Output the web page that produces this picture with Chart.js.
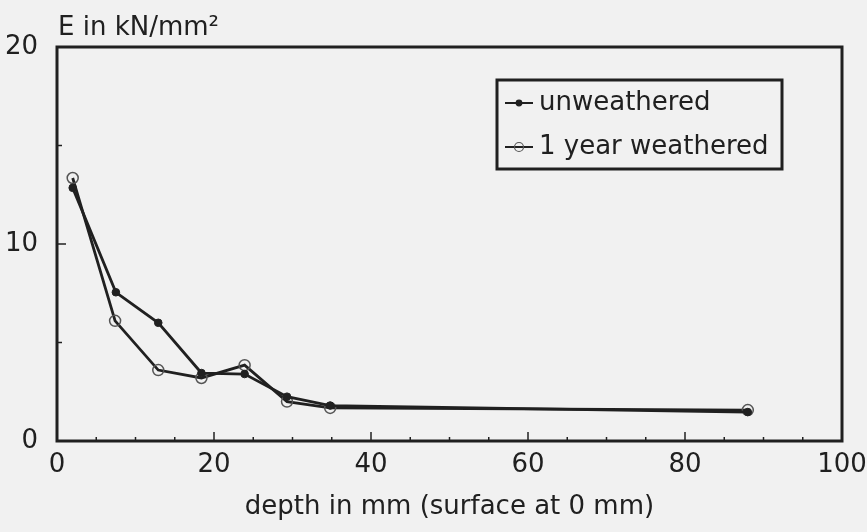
<!DOCTYPE html>
<html>
<head>
<meta charset="utf-8">
<script src="https://cdn.jsdelivr.net/npm/chart.js@4.4.1/dist/chart.umd.min.js"></script>
<style>
  html, body { margin: 0; padding: 0; background: #f1f1f1; }
  #wrap { width: 867px; height: 532px; }
</style>
</head>
<body>
<div id="wrap"><canvas id="myChart" width="867" height="532"></canvas></div>
<script>
// depth values (mm) and E modulus (kN/mm²)
const depthUnweathered = [2.0, 7.5, 12.9, 18.4, 23.9, 29.3, 34.8, 88.0];
const eUnweathered = [12.85, 7.55, 6.0, 3.45, 3.4, 2.25, 1.8, 1.47];

const depthWeathered = [2.0, 7.4, 12.9, 18.4, 23.9, 29.3, 34.8, 88.0];
const eWeathered = [13.35, 6.1, 3.6, 3.2, 3.85, 2.0, 1.68, 1.57];

const seriesNames = ['unweathered', '1 year weathered'];
const xLabelTicks = [0, 20, 40, 60, 80, 100];
const yLabelTicks = [0, 10, 20];

const axisTitleX = 'depth in mm (surface at 0 mm)';
const axisTitleY = 'E in kN/mm²';

const FONT = 'DejaVu Sans';
const INK = '#202020';

function toPoints(xs, ys) {
    return xs.map((x, i) => ({ x: x, y: ys[i] }));
}

// frame around the plot, inner tick marks and the y title
const framePlugin = {
    id: 'frame',
    afterDraw(chart) {
        const ctx = chart.ctx;
        const a = chart.chartArea;
        const xs = chart.scales.x;
        const ys = chart.scales.y;
        ctx.save();
        ctx.strokeStyle = INK;

        // small tick marks pointing into the plot
        ctx.lineWidth = 1.5;
        xs.ticks.forEach(t => {
            if (t.value <= 0 || t.value >= 100) return;
            const px = xs.getPixelForValue(t.value);
            const len = t.value % 20 === 0 ? 9 : 4;
            ctx.beginPath();
            ctx.moveTo(px, a.bottom);
            ctx.lineTo(px, a.bottom - len);
            ctx.stroke();
        });
        ys.ticks.forEach(t => {
            if (t.value <= 0 || t.value >= 20) return;
            const py = ys.getPixelForValue(t.value);
            const len = t.value % 10 === 0 ? 9 : 5;
            ctx.beginPath();
            ctx.moveTo(a.left, py);
            ctx.lineTo(a.left + len, py);
            ctx.stroke();
        });

        // thick box
        ctx.lineWidth = 3;
        ctx.strokeRect(a.left, a.top, a.right - a.left, a.bottom - a.top);

        // y title above the axis
        ctx.fillStyle = INK;
        ctx.font = '26px "' + FONT + '"';
        ctx.textAlign = 'left';
        ctx.textBaseline = 'alphabetic';
        ctx.fillText(axisTitleY, a.left + 1, 35);
        ctx.restore();
    }
};

// boxed legend in the upper right of the plot
const boxLegendPlugin = {
    id: 'boxLegend',
    afterDraw(chart) {
        const ctx = chart.ctx;
        const box = { x: 497, y: 80, w: 285, h: 89 };
        const rows = [103, 147];
        ctx.save();
        ctx.fillStyle = '#f1f1f1';
        ctx.fillRect(box.x, box.y, box.w, box.h);
        ctx.strokeStyle = INK;
        ctx.lineWidth = 3;
        ctx.strokeRect(box.x, box.y, box.w, box.h);

        chart.data.datasets.forEach((ds, i) => {
            const y = rows[i];
            ctx.strokeStyle = ds.borderColor;
            ctx.lineWidth = 2;
            ctx.beginPath();
            ctx.moveTo(505, y);
            ctx.lineTo(533, y);
            ctx.stroke();
            // marker
            ctx.beginPath();
            ctx.arc(519, y, ds.pointRadius - 1, 0, Math.PI * 2);
            if (ds.pointBackgroundColor !== 'transparent') {
                ctx.fillStyle = ds.pointBackgroundColor;
                ctx.fill();
            }
            ctx.strokeStyle = ds.pointBorderColor;
            ctx.lineWidth = 1.2;
            ctx.stroke();

            ctx.fillStyle = INK;
            ctx.font = '26px "' + FONT + '"';
            ctx.textAlign = 'left';
            ctx.textBaseline = 'middle';
            ctx.fillText(ds.label, 539, y);
        });
        ctx.restore();
    }
};

const ctx = document.getElementById('myChart').getContext('2d');
const myChart = new Chart(ctx, {
    type: 'scatter',
    data: {
        datasets: [{
            label: seriesNames[0],
            data: toPoints(depthUnweathered, eUnweathered),
            showLine: true,
            borderColor: INK,
            borderWidth: 2.8,
            pointRadius: 3.8,
            pointBackgroundColor: INK,
            pointBorderColor: INK,
            pointBorderWidth: 1
        }, {
            label: seriesNames[1],
            data: toPoints(depthWeathered, eWeathered),
            showLine: true,
            borderColor: INK,
            borderWidth: 2.8,
            pointRadius: 5.5,
            pointBackgroundColor: 'transparent',
            pointBorderColor: '#555',
            pointBorderWidth: 1.5
        }]
    },
    options: {
        responsive: false,
        devicePixelRatio: 1,
        animation: false,
        layout: {
            padding: { top: 47, right: 25, left: 0, bottom: 0 }
        },
        plugins: {
            legend: { display: false },
            tooltip: { enabled: false }
        },
        scales: {
            x: {
                type: 'linear',
                min: 0,
                max: 100,
                afterFit(scale) {
                    scale.height = 91;
                    scale.paddingLeft = 0;
                    scale.paddingRight = 0;
                },
                grid: { drawOnChartArea: false, drawTicks: false },
                border: { display: false },
                ticks: {
                    stepSize: 5,
                    autoSkip: false,
                    maxRotation: 0,
                    padding: 9,
                    color: INK,
                    font: { family: FONT, size: 26 },
                    callback: v => xLabelTicks.includes(v) ? String(v) : ''
                },
                title: {
                    display: true,
                    text: axisTitleX,
                    color: INK,
                    font: { family: FONT, size: 26 },
                    padding: { top: 0, bottom: 9 }
                }
            },
            y: {
                type: 'linear',
                min: 0,
                max: 20,
                afterFit(scale) { scale.width = 57; },
                grid: { drawOnChartArea: false, drawTicks: false },
                border: { display: false },
                ticks: {
                    stepSize: 5,
                    autoSkip: false,
                    padding: 19,
                    color: INK,
                    font: { family: FONT, size: 26 },
                    callback: v => yLabelTicks.includes(v) ? String(v) : ''
                }
            }
        }
    },
    plugins: [framePlugin, boxLegendPlugin]
});
</script>
</body>
</html>
